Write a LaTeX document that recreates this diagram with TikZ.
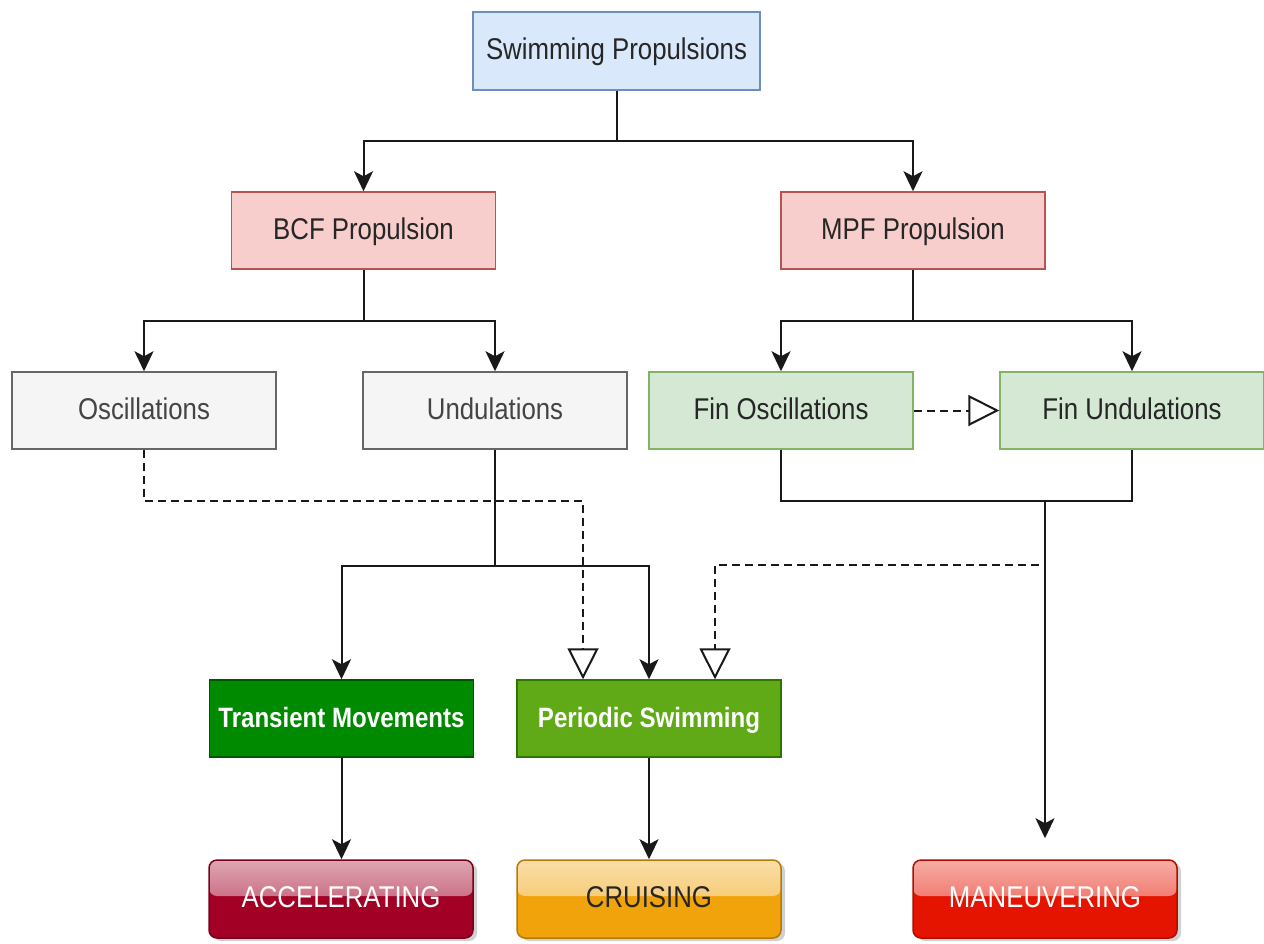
\documentclass[tikz,border=0pt]{standalone}
\usepackage{fontspec}
\setmainfont{Liberation Sans}[FakeStretch=0.86]
\usepackage{xcolor}
\usepackage{tikz}
\usetikzlibrary{arrows.meta,positioning,shadows}

\definecolor{rootfill}{HTML}{DAE8FC}
\definecolor{rootdraw}{HTML}{6C8EBF}
\definecolor{propfill}{HTML}{F8CECC}
\definecolor{propdraw}{HTML}{B85450}
\definecolor{kindfill}{HTML}{F5F5F5}
\definecolor{kinddraw}{HTML}{666666}
\definecolor{kindtext}{HTML}{444444}
\definecolor{finfill}{HTML}{D5E8D4}
\definecolor{findraw}{HTML}{82B366}
\definecolor{transfill}{HTML}{008A00}
\definecolor{transdraw}{HTML}{005700}
\definecolor{perifill}{HTML}{60A917}
\definecolor{peridraw}{HTML}{2D7600}
\definecolor{accfill}{HTML}{A20025}
\definecolor{crufill}{HTML}{F0A30A}
\definecolor{manfill}{HTML}{E51400}

\begin{document}
\begin{tikzpicture}[
  x=1pt, y=-1pt,
  font=\fontsize{30}{36}\selectfont,
  box/.style={draw, line width=1.5pt, align=center, inner sep=0pt, text height=23pt, text depth=6pt,
    minimum width=264pt, minimum height=77pt},
  root/.style={box, fill=rootfill, draw=rootdraw, minimum width=287pt, minimum height=78pt, text=black!85},
  prop/.style={box, fill=propfill, draw=propdraw, text=black!85},
  kind/.style={box, fill=kindfill, draw=kinddraw, text=kindtext},
  fin/.style={box, fill=finfill, draw=findraw, text=black!85},
  swim/.style={box, text=white, font=\fontsize{28}{34}\selectfont\bfseries},
  btn/.style={draw=#1!75!black, fill=#1, rounded corners=8pt, line width=1.5pt, inner sep=0pt,
    text height=23pt, text depth=6pt, minimum width=264pt, minimum height=78pt, text=white,
    drop shadow={shadow xshift=4pt, shadow yshift=-3pt, opacity=0.3, fill=black!60},
    path picture={\shade[top color=white!65!#1, bottom color=white!22!#1]
      (path picture bounding box.north west) rectangle ([yshift=3pt]path picture bounding box.east);}},
  edge/.style={-{Stealth[length=20pt, width=19pt, inset=5pt]}, line width=2pt, draw=black!90},
  weak/.style={-{Triangle[open, length=31pt, width=31pt, fill=white]}, line width=2pt, draw=black!90,
    dash pattern=on 8pt off 5pt},
  link/.style={line width=2pt, draw=black!90}
]
\useasboundingbox (0,0) rectangle (1264,943);

% tree of propulsion modes
\node[root] (top) at (616.5,51) {Swimming Propulsions};
\node[prop] (bcf) at (363.5,230.5) {BCF Propulsion};
\node[prop] (mpf) at (913,230.5) {MPF Propulsion};
\node[kind] (osc) at (144,410.5) {Oscillations};
\node[kind] (und) at (495,410.5) {Undulations};
\node[fin] (fosc) at (781,410.5) {Fin Oscillations};
\node[fin] (fund) at (1132,410.5) {Fin Undulations};
\node[swim, fill=transfill, draw=transdraw] (trans) at (341.5,718.5) {Transient Movements};
\node[swim, fill=perifill, draw=peridraw] (peri) at (649,718.5) {Periodic Swimming};

% resulting behaviours
\node[btn=accfill] (acc) at (341,899) {ACCELERATING};
\node[btn=crufill, text=black!85] (cru) at (649,899) {CRUISING};
\node[btn=manfill] (man) at (1045,899) {MANEUVERING};

\coordinate (finjoin) at (1045,500);
\coordinate (finsplit) at (1039,565);

\draw[edge] (top.south) -- ++(0,50) -| (bcf.north);
\draw[edge] (top.south) -- ++(0,50) -| (mpf.north);
\draw[edge] (bcf.south) -- ++(0,51) -| (osc.north);
\draw[edge] (bcf.south) -- ++(0,51) -| (und.north);
\draw[edge] (mpf.south) -- ++(0,51) -| (fosc.north);
\draw[edge] (mpf.south) -- ++(0,51) -| (fund.north);
\draw[weak] (fosc) -- (fund);

\draw[weak] (osc.south) -- ++(0,51) -| ([xshift=-66pt]peri.north);
\draw[edge] (und.south) -- ++(0,116) -| (trans.north);
\draw[edge] (und.south) -- ++(0,116) -| (peri.north);
\draw[link] (fosc.south) -- ++(0,51) -| (fund.south);
\draw[edge, shorten >=21pt] (finjoin) -- (man.north);
\draw[weak] (finsplit) -| ([xshift=66pt]peri.north);

\draw[edge] (trans.south) -- (trans.south |- acc.north);
\draw[edge] (peri) -- (cru);
\end{tikzpicture}
\end{document}
